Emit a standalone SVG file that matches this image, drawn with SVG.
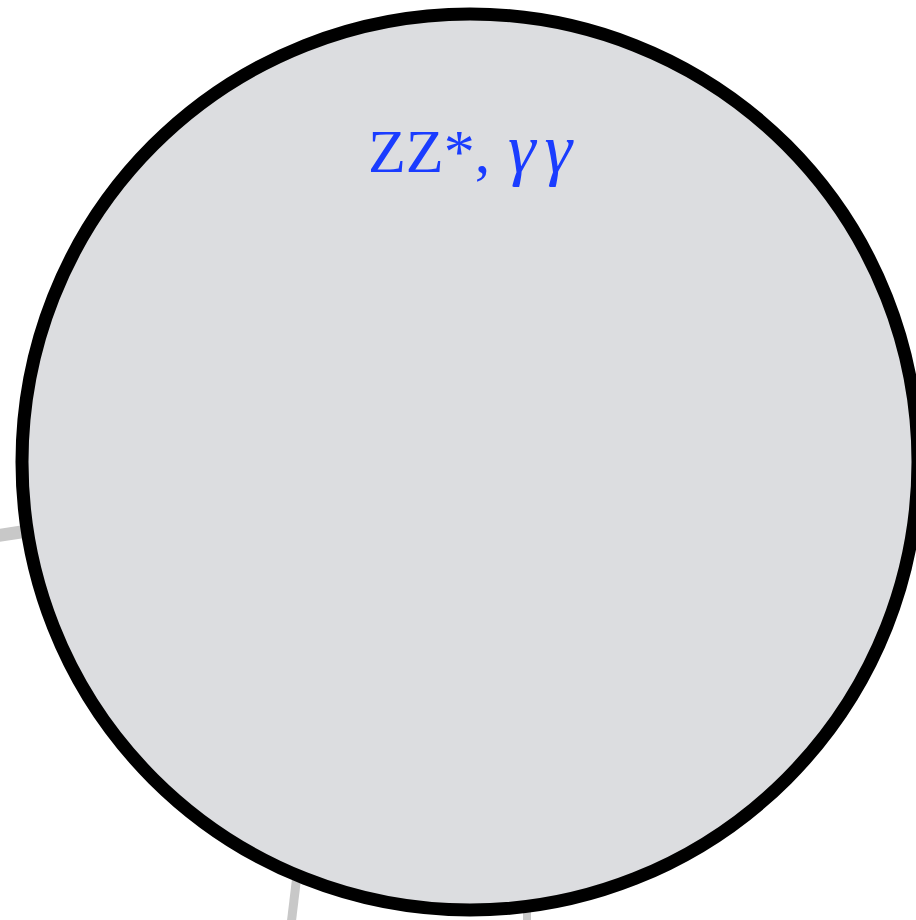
<svg xmlns="http://www.w3.org/2000/svg" width="916" height="920" viewBox="0 0 916 920">
<style>
.conn{stroke:#c8c8c8;fill:none;stroke-linecap:butt}
.node{fill:#dcdde0;stroke:#000;stroke-width:13}
.lbl{font-family:"Liberation Serif","DejaVu Serif",serif;fill:#1a3cff;font-size:62px}
</style>
<rect width="916" height="920" fill="#fff"/>
<g id="connectors">
<line class="conn" x1="-5" y1="536" x2="60" y2="526" stroke-width="13"/>
<line class="conn" x1="291" y1="925" x2="300" y2="850" stroke-width="9"/>
<line class="conn" x1="527" y1="925" x2="527" y2="880" stroke-width="8"/>
</g>
<g id="node-zz">
<circle class="node" cx="470" cy="462" r="448"/>
<text class="lbl" x="368" y="172">ZZ*, <tspan x="508" font-style="italic" font-size="70" letter-spacing="9">γγ</tspan></text>
</g>
</svg>
